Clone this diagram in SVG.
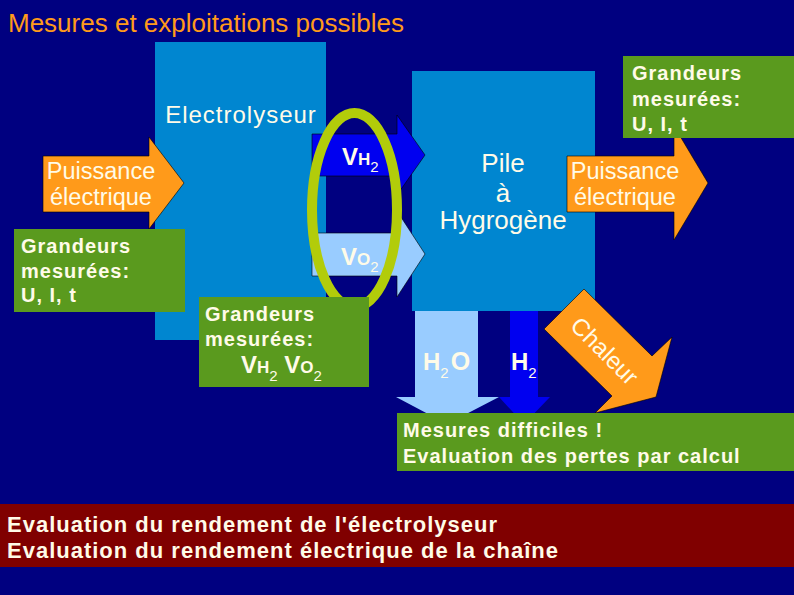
<svg xmlns="http://www.w3.org/2000/svg" width="794" height="595" viewBox="0 0 794 595">
<style>
text{font-family:"Liberation Sans",Arial,sans-serif;fill:#fffbe8}
.b{font-size:20px;letter-spacing:1px;font-weight:bold}
.m{text-anchor:middle}
.n{font-size:23.5px}
.p{font-size:26px}
.w{font-size:24px;font-weight:bold}
.h{font-size:17px;font-weight:bold}
.u{font-size:15px;font-weight:normal}
.blk{fill:#0086d0}
.or{fill:#ff9a1a;stroke:#000;stroke-width:.6}
.gr{fill:#5a9a1e}
.r{font-size:22px;font-weight:bold;letter-spacing:1px}
</style>
<rect width="794" height="595" fill="#000080"/>
<text x="8" y="32" font-size="26" style="fill:#ff9a1a">Mesures et exploitations possibles</text>
<g id="electrolyseur"><rect class="blk" x="155" y="42" width="171" height="298"/><text class="m" font-size="24" letter-spacing="1" x="241" y="123">Electrolyseur</text></g>
<g id="pile"><rect class="blk" x="412" y="71" width="183" height="240"/><text class="p m" x="503" y="172">Pile</text><text class="p m" x="503" y="202">à</text><text class="p m" x="503" y="229">Hygrogène</text></g>
<g id="connectors">
<g id="p-in"><path class="or" d="M43 156H149V137L184 183L149 229V212H43Z"/><text class="n m" x="101" y="179">Puissance</text><text class="n m" x="101" y="205">électrique</text></g>
<g id="vh2"><path fill="#0000f0" stroke="#000" stroke-width=".6" d="M312 134H397V115L425 155L397 195V176H312Z"/></g>
<g id="vo2"><path fill="#99ccff" stroke="#000" stroke-width=".6" d="M312 233H397V211L425 254L397 297V276H312Z"/></g>
<g id="h2o"><path fill="#99ccff" d="M415 311H478V397H499L447 424L396 397H415Z"/><text class="w" x="423" y="370">H<tspan class="u" font-size="17" dy="8">2</tspan><tspan dy="-8" dx="2" font-size="25">O</tspan></text></g>
<g id="h2"><path fill="#0000f0" d="M510 311H538V397H550L524 424L499 397H510Z"/><text class="w" x="511" y="370">H<tspan class="u" font-size="17" dy="8">2</tspan></text></g>
<g id="chaleur"><path class="or" d="M544 329L584 289L652 356L672 337L656 397L595 413L612 396Z"/><text font-size="24" transform="translate(569 327) rotate(45)">Chaleur</text></g>
<g id="p-out"><path class="or" d="M567 156H674V126L708 183L674 240V212H567Z"/><text class="n m" x="625" y="179">Puissance</text><text class="n m" x="625" y="205">électrique</text></g>
</g>
<g id="vh2-label"><text class="w" x="342" y="165">V<tspan class="h">H</tspan><tspan class="u" dy="7">2</tspan></text></g>
<g id="vo2-label"><text class="w" x="341" y="265">V<tspan class="h">O</tspan><tspan class="u" dy="7">2</tspan></text></g>
<ellipse id="ring" cx="354.5" cy="210" rx="42.5" ry="97" fill="none" stroke="#b2cc0a" stroke-width="10"/>
<g id="g-left"><rect class="gr" x="14" y="229" width="171" height="83"/><text class="b" x="21" y="253">Grandeurs</text><text class="b" x="21" y="278">mesurées:</text><text class="b" x="21" y="302">U, I, t</text></g>
<g id="g-right"><rect class="gr" x="623" y="56" width="171" height="82"/><text class="b" x="632" y="80">Grandeurs</text><text class="b" x="632" y="106">mesurées:</text><text class="b" x="632" y="131">U, I, t</text></g>
<g id="g-mid"><rect class="gr" x="199" y="297" width="170" height="90"/><text class="b" x="205" y="321">Grandeurs</text><text class="b" x="205" y="346">mesurées:</text><text class="w" x="241" y="373">V<tspan class="h">H</tspan><tspan class="u" dy="8">2</tspan><tspan dy="-8"> V</tspan><tspan class="h">O</tspan><tspan class="u" dy="8">2</tspan></text></g>
<g id="pertes"><rect class="gr" x="397" y="413" width="397" height="58"/><text class="b" x="403" y="437">Mesures difficiles !</text><text class="b" x="403" y="463">Evaluation des pertes par calcul</text></g>
<g id="rendement"><rect fill="#800000" y="504" width="794" height="63"/><text class="r" x="7" y="532">Evaluation du rendement de l'électrolyseur</text><text class="r" x="7" y="558">Evaluation du rendement électrique de la chaîne</text></g>
</svg>
